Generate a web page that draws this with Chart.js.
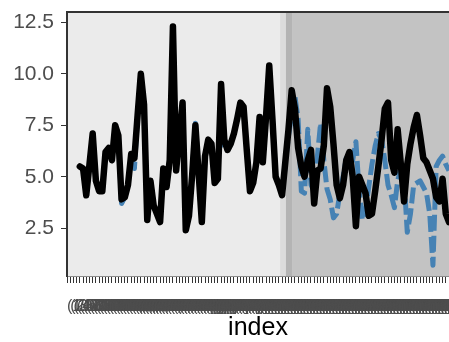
<!DOCTYPE html>
<html>
<head>
<meta charset="utf-8">
<title>index</title>
<script src="https://cdn.jsdelivr.net/npm/chart.js@4"></script>
<style>
  body { margin: 0; background: #fff; }
  #caja { width: 449px; height: 342px; }
</style>
</head>
<body>
<div id="caja"><canvas id="grafica"></canvas></div>
<script>
// categorias del eje x (ilegibles en el original, se pisan unas a otras)
const categorias = Array.from({ length: 120 }, (_, i) => '(' + (i + 1) + '.000000,' + (i + 2) + '.000000]');

// serie observada (negra)
const observado = [
  null, null, null, null,
  5.5, 5.4, 4.1, 5.6, 7.1, 4.8, 4.3, 4.3, 6.2, 6.4,
  5.8, 7.5, 7.0, 3.9, 4.0, 4.6, 6.1, 5.9, 8.0, 10.0,
  8.5, 2.9, 4.8, 3.6, 3.2, 2.8, 5.4, 4.5, 5.8, 12.3,
  5.3, 7.0, 8.6, 2.4, 3.1, 5.1, 7.5, 5.2, 2.8, 6.0,
  6.8, 6.6, 4.7, 4.9, 9.5, 6.8, 6.3, 6.6, 7.1, 7.8,
  8.6, 8.4, 6.3, 4.3, 4.7, 5.7, 7.9, 5.7, 7.9, 10.4,
  7.8, 5.0, 4.6, 4.1, 5.7, 7.3, 9.2, 8.3, 6.4, 5.5,
  5.0, 5.8, 6.3, 3.7, 5.3, 5.4, 6.5, 9.3, 8.4, 6.6,
  4.6, 3.95, 4.6, 5.8, 6.2, 5.0, 2.6, 5.0, 4.6, 4.2,
  3.1, 3.2, 4.3, 5.5, 6.8, 8.3, 8.6, 5.8, 5.2, 7.3,
  5.6, 3.8, 5.6, 6.6, 7.4, 8.0, 7.0, 5.9, 5.7, 5.3,
  4.9, 4.0, 3.8, 4.9, 3.2, 2.8
];

// serie ajustada / prediccion (azul discontinua)
const ajustado = [
  null, null, null, null,
  5.5, 5.4, 4.1, 5.6, 7.1, 4.8, 4.3, 4.3, 6.2, 6.4,
  5.8, 7.5, 7.0, 3.7, 4.0, 4.6, 6.0, 5.4, 8.0, 10.0,
  8.5, 2.9, 4.8, 3.6, 3.2, 2.8, 5.4, 4.5, 5.8, 12.3,
  5.3, 7.0, 8.6, 2.4, 3.1, 5.1, 7.6, 5.2, 2.8, 6.0,
  6.8, 6.6, 4.7, 4.9, 9.5, 6.5, 6.3, 6.6, 7.1, 7.8,
  8.6, 8.4, 6.3, 4.3, 4.7, 5.7, 7.9, 5.7, 7.9, 10.4,
  7.8, 5.0, 4.6, 4.1, 5.6, 7.0, 8.0, 8.9, 7.8, 4.3,
  4.2, 7.3, 4.6, 4.3, 6.0, 7.6, 5.8, 4.4, 3.9, 3.0,
  3.2, 4.2, 5.0, 5.9, 5.5, 5.8, 6.7, 4.3, 2.9, 3.4,
  4.5, 5.6, 6.5, 7.1, 6.8, 5.8, 4.6, 4.1, 3.5, 4.8,
  5.4, 4.9, 2.3, 3.2, 4.6, 4.7, 4.8, 4.5, 4.2, 3.2,
  0.7, 5.5, 5.8, 6.0, 5.6, 5.3
];

// marcas del eje y
const marcasY = [2.5, 5.0, 7.5, 10.0, 12.5];

// zonas sombreadas del panel (en indices de categoria)
const zonas = [
  { desde: 66.4, hasta: 68.2, color: '#DCDCDC' },
  { desde: 68.2, hasta: 70.1, color: '#B4B4B4' },
  { desde: 70.1, hasta: null, color: '#C3C3C3' }
];

const panel = {
  id: 'panel',
  beforeDraw(chart) {
    const { ctx, chartArea: a, scales } = chart;
    ctx.save();
    ctx.fillStyle = '#EBEBEB';
    ctx.fillRect(a.left, a.top, a.right - a.left, a.bottom - a.top);
    zonas.forEach(z => {
      const x1 = scales.x.getPixelForValue(z.desde);
      const x2 = z.hasta === null ? a.right : scales.x.getPixelForValue(z.hasta);
      ctx.fillStyle = z.color;
      ctx.fillRect(x1, a.top, x2 - x1, a.bottom - a.top);
    });
    ctx.restore();
  },
  afterDraw(chart) {
    const { ctx, chartArea: a } = chart;
    ctx.save();
    // linea inferior suave
    ctx.strokeStyle = '#8C8C8C';
    ctx.lineWidth = 1;
    ctx.beginPath();
    ctx.moveTo(a.left, a.bottom - 0.5);
    ctx.lineTo(a.right, a.bottom - 0.5);
    ctx.stroke();
    // bordes izquierdo y superior
    ctx.strokeStyle = '#333333';
    ctx.lineWidth = 2;
    ctx.beginPath();
    ctx.moveTo(a.left, a.bottom);
    ctx.lineTo(a.left, a.top);
    ctx.lineTo(a.right, a.top);
    ctx.stroke();
    ctx.restore();
  }
};

new Chart(document.getElementById('grafica'), {
  type: 'line',
  data: {
    labels: categorias,
    datasets: [
      {
        label: 'observado',
        data: observado,
        borderColor: '#000000',
        borderWidth: 6.5,
        borderJoinStyle: 'round',
        borderCapStyle: 'round',
        pointRadius: 0,
        tension: 0,
        order: 1
      },
      {
        label: 'ajustado',
        data: ajustado,
        borderColor: '#4682B4',
        borderWidth: 5,
        borderDash: [16, 5],
        borderJoinStyle: 'round',
        pointRadius: 0,
        tension: 0,
        order: 2
      }
    ]
  },
  options: {
    responsive: true,
    maintainAspectRatio: false,
    animation: false,
    layout: { padding: { top: 12, right: 0, left: 0, bottom: 0 } },
    plugins: {
      legend: { display: false },
      tooltip: { enabled: false }
    },
    scales: {
      x: {
        type: 'category',
        offset: false,
        border: { display: false },
        grid: { display: true, drawOnChartArea: false, drawTicks: true, tickLength: 6, color: '#333333', lineWidth: 1 },
        ticks: {
          autoSkip: false,
          maxRotation: 0,
          minRotation: 0,
          align: 'start',
          padding: 14,
          color: '#4D4D4D',
          font: { family: 'Liberation Sans, Arial, sans-serif', size: 16 }
        },
        title: {
          display: true,
          text: 'index',
          color: '#000000',
          padding: { top: 0, bottom: 0 },
          font: { family: 'Liberation Sans, Arial, sans-serif', size: 25, lineHeight: 1.1 }
        },
        afterFit(scale) {
          scale.height = 65;
          scale.paddingLeft = 0;
          scale.paddingRight = 0;
        }
      },
      y: {
        min: 0.13,
        max: 13.0,
        border: { display: false },
        grid: { display: true, drawOnChartArea: false, drawTicks: true, tickLength: 6, color: '#333333', lineWidth: 1 },
        afterBuildTicks(scale) {
          scale.ticks = marcasY.map(v => ({ value: v }));
        },
        ticks: {
          padding: 7,
          color: '#4D4D4D',
          font: { family: 'Liberation Sans, Arial, sans-serif', size: 21 },
          callback: v => Number(v).toFixed(1)
        },
        afterFit(scale) {
          scale.width = 67;
          scale.paddingTop = 0;
          scale.paddingBottom = 0;
        }
      }
    }
  },
  plugins: [panel]
});
</script>
</body>
</html>
